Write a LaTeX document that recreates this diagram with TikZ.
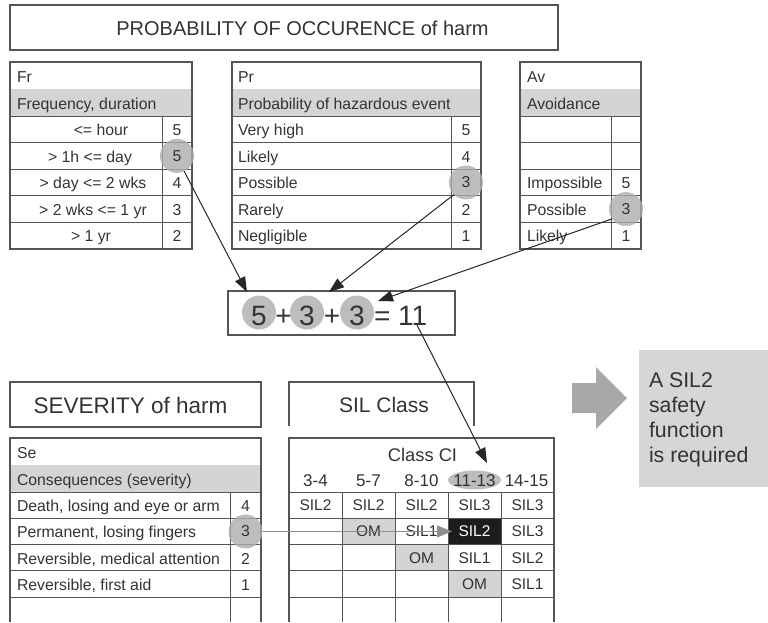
\documentclass[tikz,border=0pt]{standalone}
\usepackage{fontspec}
\setmainfont{Liberation Sans}
\usetikzlibrary{arrows.meta,shapes.geometric}
\definecolor{ink}{HTML}{333333}
\definecolor{ln}{HTML}{555555}
\definecolor{hdr}{HTML}{D4D4D4}
\definecolor{hl}{HTML}{ACACAC}
\definecolor{hlb}{HTML}{BDBDBD}
\definecolor{boxg}{HTML}{D6D6D6}
\definecolor{bigarr}{HTML}{A8A8A8}
\definecolor{garrc}{HTML}{8E8E8E}
\definecolor{cellk}{HTML}{1C1C1C}
\begin{document}
\begin{tikzpicture}[x=1pt,y=-1pt,
 every node/.style={text=ink,inner sep=0pt,outer sep=0pt},
 frame/.style={draw=ln,line width=1.1pt},
 gridl/.style={draw=ln,line width=1pt},
 bt/.style={font=\fontsize{15.8}{18}\selectfont,anchor=base west},
 bc/.style={font=\fontsize{15.8}{18}\selectfont,anchor=base},
 cc/.style={font=\fontsize{15.5}{18}\selectfont},
 tt/.style={font=\fontsize{20}{24}\selectfont},
 hlc/.style={circle,fill=hl,fill opacity=0.8,text opacity=1,minimum size=34pt,font=\fontsize{15.8}{18}\selectfont},
 sumc/.style={circle,fill=hlb,minimum size=34pt},
 st/.style={font=\fontsize{28}{32}\selectfont,anchor=base},
 arr/.style={draw=black!85,line width=1pt,-{Triangle[length=15pt,width=11pt]}},
 garr/.style={draw=garrc,line width=1.1pt,-{Triangle[length=15pt,width=12pt,fill=garrc]}},
 rt/.style={font=\fontsize{21.3}{25}\selectfont,anchor=base west},
]
\useasboundingbox (0,0) rectangle (768,622);

% ---------- top title box
\node[frame,minimum width=548pt,minimum height=45pt,anchor=north west] (topbox) at (10,5) {};
\node[tt] (toptxt) at (302.5,28) {PROBABILITY OF OCCURENCE of harm};

% ---------- Fr table
\fill[hdr] (10,89) rectangle (192,116);
\draw[frame] (10,62) rectangle (192,249);
\foreach \yy in {116,142.6,169.2,195.8,222.4} \draw[gridl] (10,\yy) -- (192,\yy);
\draw[gridl] (162,116) -- (162,249);
\node[bt] (frh) at (17,82) {Fr};
\node[bt] (frs) at (17,109) {Frequency, duration};
\node[bc] (fr0) at (101,135.5) {<= hour};
\node[bc] (fr1) at (90,162.1) {> 1h <= day};
\node[bc] (fr2) at (93,188.7) {> day <= 2 wks};
\node[bc] (fr3) at (93,215.3) {> 2 wks <= 1 yr};
\node[bc] (fr4) at (91,241.9) {> 1 yr};
\node[bc] (frn0) at (177,135.5) {5};
\node[bc] (frn2) at (177,188.7) {4};
\node[bc] (frn3) at (177,215.3) {3};
\node[bc] (frn4) at (177,241.9) {2};
\node[hlc] (frc) at (177,155.9) {5};

% ---------- Pr table
\fill[hdr] (232,89) rectangle (481,116);
\draw[frame] (232,62) rectangle (481,249);
\foreach \yy in {116,142.6,169.2,195.8,222.4} \draw[gridl] (232,\yy) -- (481,\yy);
\draw[gridl] (451,116) -- (451,249);
\node[bt] (prh) at (238,82) {Pr};
\node[bt] (prs) at (238,109) {Probability of hazardous event};
\node[bt] (pr0) at (238,135.5) {Very high};
\node[bt] (pr1) at (238,162.1) {Likely};
\node[bt] (pr2) at (238,188.7) {Possible};
\node[bt] (pr3) at (238,215.3) {Rarely};
\node[bt] (pr4) at (238,241.9) {Negligible};
\node[bc] (prn0) at (466,135.5) {5};
\node[bc] (prn1) at (466,162.1) {4};
\node[bc] (prn3) at (466,215.3) {2};
\node[bc] (prn4) at (466,241.9) {1};
\node[hlc] (prc) at (466,182.5) {3};

% ---------- Av table
\fill[hdr] (520,89) rectangle (641,116);
\draw[frame] (520,62) rectangle (641,249);
\foreach \yy in {116,142.6,169.2,195.8,222.4} \draw[gridl] (520,\yy) -- (641,\yy);
\draw[gridl] (611,116) -- (611,249);
\node[bt] (avh) at (527,82) {Av};
\node[bt] (avs) at (527,109) {Avoidance};
\node[bt] (av2) at (527,188.7) {Impossible};
\node[bt] (av3) at (527,215.3) {Possible};
\node[bt] (av4) at (527,241.9) {Likely};
\node[bc] (avn2) at (626,188.7) {5};
\node[bc] (avn4) at (626,241.9) {1};
\node[hlc] (avc) at (626,209.1) {3};

% ---------- sum box
\node[frame,minimum width=227pt,minimum height=44pt,anchor=north west] (sumbox) at (228,291) {};
\node[sumc] (s1) at (259,312.5) {};
\node[sumc] (s2) at (307,312.5) {};
\node[sumc] (s3) at (357,312.5) {};
\node[st] (d1) at (259,325) {5};
\node[st] (p1) at (283.5,325) {+};
\node[st] (d2) at (307,325) {3};
\node[st] (p2) at (332,325) {+};
\node[st] (d3) at (357,325) {3};
\node[st,anchor=base west] (eq) at (374,325) {= 11};

\coordinate (t1) at (247,292);
\coordinate (t2) at (329,292);
\coordinate (t3) at (378,301);
\draw[arr] (frc.-65) -- (t1);
\draw[arr] (prc.225) -- (t2);
\draw[arr] (avc.215) -- (t3);

% ---------- severity
\node[frame,minimum width=251pt,minimum height=45pt,anchor=north west] (sevbox) at (10,382) {};
\node[font=\fontsize{22.5}{26}\selectfont] (sevtxt) at (130.5,405) {SEVERITY of harm};

\fill[hdr] (10,465) rectangle (261,492);
\draw[frame] (10,622) -- (10,438) -- (261,438) -- (261,622);
\foreach \yy in {492,518.3,544.6,570.9,597.2} \draw[gridl] (10,\yy) -- (261,\yy);
\draw[gridl] (230,492) -- (230,622);
\node[bt] (seh) at (17,458) {Se};
\node[bt] (ses) at (17,485) {Consequences (severity)};
\node[bt] (se0) at (17,511.5) {Death, losing and eye or arm};
\node[bt] (se1) at (17,537.8) {Permanent, losing fingers};
\node[bt] (se2) at (17,564.1) {Reversible, medical attention};
\node[bt] (se3) at (17,590.4) {Reversible, first aid};
\node[bc] (sen0) at (245.5,511.5) {4};
\node[bc] (sen2) at (245.5,564.1) {2};
\node[bc] (sen3) at (245.5,590.4) {1};
\node[hlc] (sec) at (245.5,531.45) {3};

% ---------- SIL class
\draw[frame] (289,426) -- (289,382) -- (474,382) -- (474,426);
\node[font=\fontsize{21}{25}\selectfont] (siltxt) at (384,405) {SIL Class};

\fill[hdr] (342,518.3) rectangle (395,544.6);
\fill[hdr] (395,544.6) rectangle (448,570.9);
\fill[hdr] (448,570.9) rectangle (501,597.2);
\fill[cellk] (448,518.3) rectangle (501,544.6);
\draw[frame] (289,622) -- (289,438) -- (554,438) -- (554,622);
\foreach \yy in {492,518.3,544.6,570.9,597.2} \draw[gridl] (289,\yy) -- (554,\yy);
\foreach \xx in {342,395,448,501} \draw[gridl] (\xx,492) -- (\xx,622);
\node[ellipse,fill=hlb,minimum width=53pt,minimum height=19pt] (ell) at (474.5,480) {};
\node[font=\fontsize{18.3}{22}\selectfont,anchor=base] (clci) at (422.5,461.5) {Class CI};
\foreach \xx/\tx [count=\i] in {315.5/3-4,368.5/5-7,421.5/8-10,474.5/11-13,526.5/14-15}
  \node[font=\fontsize{17}{20}\selectfont,anchor=base] (hd\i) at (\xx,486) {\tx};

\node[cc] (c11) at (315.5,505.15) {SIL2};
\node[cc] (c12) at (368.5,505.15) {SIL2};
\node[cc] (c13) at (421.5,505.15) {SIL2};
\node[cc] (c14) at (474.5,505.15) {SIL3};
\node[cc] (c15) at (527.5,505.15) {SIL3};
\node[cc] (c22) at (368.5,531.45) {OM};
\node[cc] (c23) at (421.5,531.45) {SIL1};
\node[cc,text=white] (c24) at (474.5,531.45) {SIL2};
\node[cc] (c25) at (527.5,531.45) {SIL3};
\node[cc] (c33) at (421.5,557.75) {OM};
\node[cc] (c34) at (474.5,557.75) {SIL1};
\node[cc] (c35) at (527.5,557.75) {SIL2};
\node[cc] (c44) at (474.5,584.05) {OM};
\node[cc] (c45) at (527.5,584.05) {SIL1};

\coordinate (t5) at (452,531.45);
\draw[garr] (sec) -- (t5);

\coordinate (s11) at (417,325);
\coordinate (t4) at (487,463);
\draw[arr] (s11) -- (t4);

% ---------- result
\fill[bigarr] (572,383) -- (596,383) -- (596,367) -- (627,398) -- (596,429) -- (596,413) -- (572,413) -- cycle;
\node[fill=boxg,minimum width=129pt,minimum height=137pt,anchor=north west] (res) at (639,350) {};
\node[rt] (r1) at (649,387) {A SIL2};
\node[rt] (r2) at (649,412) {safety};
\node[rt] (r3) at (649,437) {function};
\node[rt] (r4) at (649,462) {is required};
\end{tikzpicture}
\end{document}
